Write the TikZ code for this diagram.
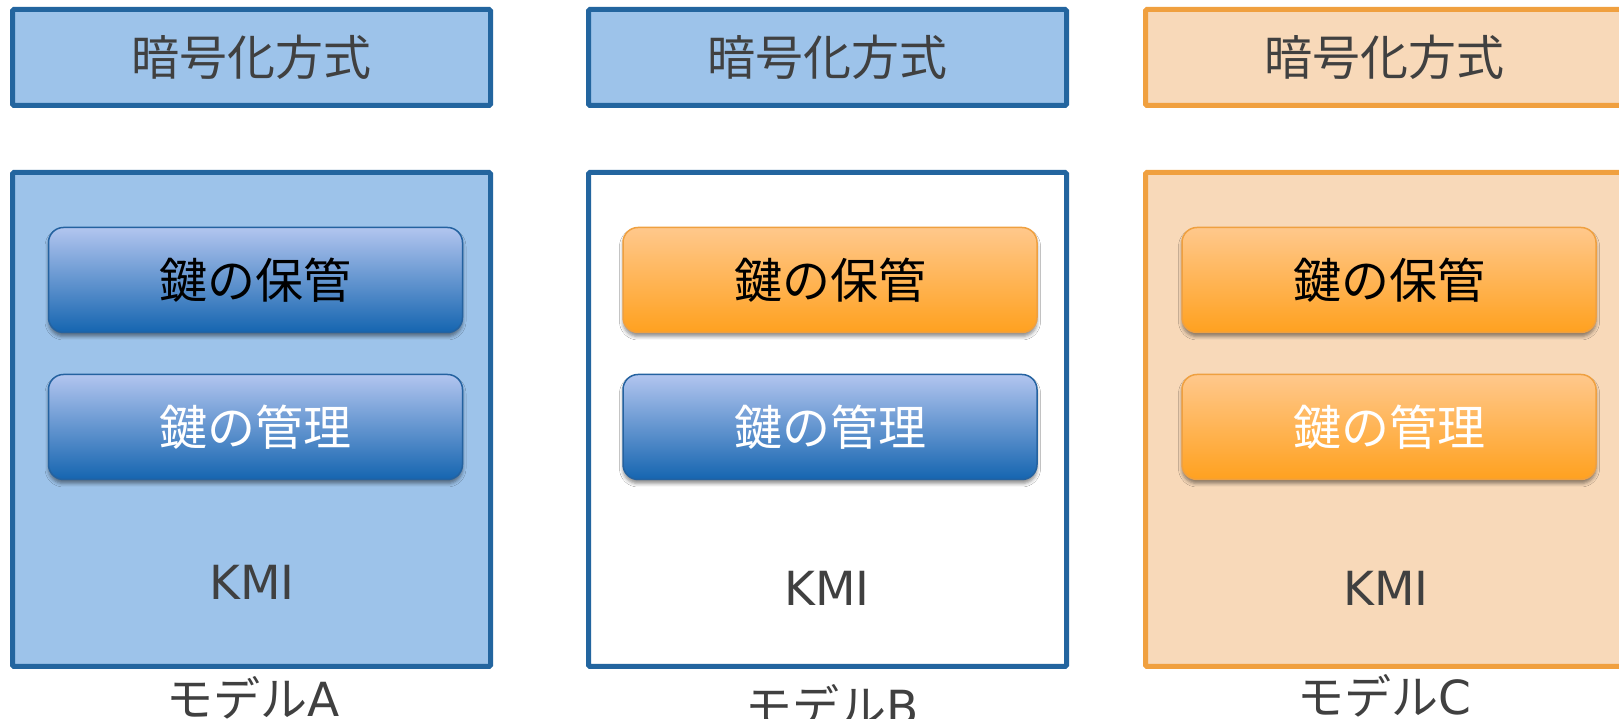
\documentclass[tikz,border=0pt]{standalone}
\usepackage{fontspec}
\setmainfont{DejaVu Sans}
\newfontfamily\jp{Noto Sans CJK JP}
\usetikzlibrary{shadows.blur}
\definecolor{bborder}{HTML}{23659F}
\definecolor{bfill}{HTML}{9DC3EA}
\definecolor{oborder}{HTML}{F0A03F}
\definecolor{ofill}{HTML}{F8D9B9}
\definecolor{txtgray}{HTML}{404040}
\definecolor{btop}{HTML}{B2C5EF}
\definecolor{bbot}{HTML}{1565B0}
\definecolor{bline}{HTML}{2462A0}
\definecolor{otop}{HTML}{FFC88C}
\definecolor{obot}{HTML}{FFA11F}
\definecolor{oline}{HTML}{EFA040}
\tikzset{
  bigtxt/.style={font=\jp\fontsize{48}{58}\selectfont},
  latintxt/.style={font=\fontsize{47}{56}\selectfont, text=txtgray},
  topbox/.style={draw, line width=5pt, rounded corners=1.5pt, minimum width=478pt, minimum height=96pt, inner sep=0pt, bigtxt, text=txtgray},
  kmibox/.style={draw, line width=5pt, rounded corners=1.5pt, minimum width=478pt, minimum height=494pt, inner sep=0pt},
  pill/.style={draw, line width=1.5pt, rounded corners=15pt, minimum width=414pt, minimum height=105pt, inner sep=0pt, bigtxt,
    blur shadow={shadow xshift=0pt, shadow yshift=-4pt, shadow blur radius=3.5pt, shadow opacity=45}},
  bluepill/.style={pill, top color=btop, bottom color=bbot, draw=bline},
  orangepill/.style={pill, top color=otop, bottom color=obot, draw=oline},
  blueset/.style={draw=bborder, fill=bfill},
  orangeset/.style={draw=oborder, fill=ofill},
}
\begin{document}
\begin{tikzpicture}[x=1pt,y=1pt]
\useasboundingbox (0,0) rectangle (1619,719);
\fill[white] (0,0) rectangle (1619,719);
% Model A
\node[topbox, blueset] (encA) at (251.5,661.5) {暗号化方式};
\node[kmibox, blueset] (kmiA) at (251.5,299.5) {};
\node[bluepill, text=black] (storeA) at (255.5,439) {鍵の保管};
\node[bluepill, text=white] (mgmtA) at (255.5,292) {鍵の管理};
\node[latintxt] (kmiAt) at (252,137) {KMI};
\node[latintxt] (modelA) at (253,21) {{\jp モデル}A};
% Model B
\node[topbox, blueset] (encB) at (827.5,661.5) {暗号化方式};
\node[kmibox, draw=bborder, fill=white] (kmiB) at (827.5,299.5) {};
\node[orangepill, text=black] (storeB) at (830,439) {鍵の保管};
\node[bluepill, text=white] (mgmtB) at (830,292) {鍵の管理};
\node[latintxt] (kmiBt) at (827,131) {KMI};
\node[latintxt] (modelB) at (832,13) {{\jp モデル}B};
% Model C
\node[topbox, orangeset] (encC) at (1384.5,661.5) {暗号化方式};
\node[kmibox, orangeset] (kmiC) at (1384.5,299.5) {};
\node[orangepill, text=black] (storeC) at (1389,439) {鍵の保管};
\node[orangepill, text=white] (mgmtC) at (1389,292) {鍵の管理};
\node[latintxt] (kmiCt) at (1386,131) {KMI};
\node[latintxt] (modelC) at (1384,23) {{\jp モデル}C};
\end{tikzpicture}
\end{document}
